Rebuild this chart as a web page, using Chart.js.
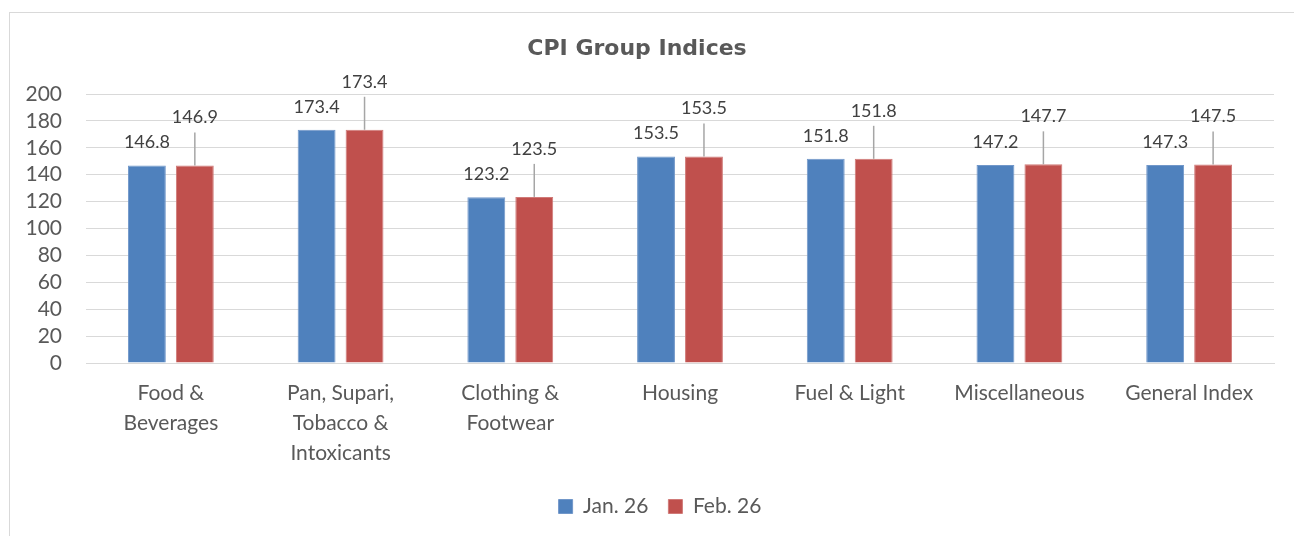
<!DOCTYPE html>
<html><head><meta charset="utf-8">
<script src="https://cdn.jsdelivr.net/npm/chart.js@4"></script>
<style>
html,body{margin:0;padding:0;background:#fff;overflow:hidden;}
#wrap{position:relative;width:1294px;height:536px;}
#frame{position:absolute;left:9px;top:12px;width:1300px;height:540px;border-left:1px solid #d9d9d9;border-top:1px solid #d9d9d9;}
canvas{position:absolute;left:0;top:0;}
</style></head><body>
<div id="wrap"><div id="frame"></div><canvas id="c" width="1294" height="536"></canvas></div>
<script>
const titleText = "CPI Group Indices";
const categories = [["Food &","Beverages"],["Pan, Supari,","Tobacco &","Intoxicants"],["Clothing &","Footwear"],"Housing","Fuel & Light","Miscellaneous","General Index"];
const seriesNames = ["Jan. 26","Feb. 26"];
const jan = [146.8,173.4,123.2,153.5,151.8,147.2,147.3];
const feb = [146.9,173.4,123.5,153.5,151.8,147.7,147.5];
const yMin = 0, yMax = 200, yStep = 20;

const textColor = '#595959';
const labelPlugin = {
  id: 'vlabels',
  afterDatasetsDraw(chart) {
    const ctx = chart.ctx;
    ctx.save();
    ctx.font = '18px Lato';
    ctx.fillStyle = '#404040';
    ctx.textAlign = 'center';
    ctx.textBaseline = 'middle';
    chart.data.datasets.forEach((ds, di) => {
      const meta = chart.getDatasetMeta(di);
      meta.data.forEach((bar, i) => {
        const v = ds.data[i];
        const x = bar.x, top = bar.y;
        if (di === 0) {
          ctx.fillText(v.toFixed(1), x, top - 23);
        } else {
          const ly = top - 48;
          ctx.fillText(v.toFixed(1), x, ly);
          ctx.strokeStyle = '#a6a6a6';
          ctx.lineWidth = 1.5;
          ctx.beginPath();
          ctx.moveTo(x, ly + 15);
          ctx.lineTo(x, top);
          ctx.stroke();
        }
      });
    });
    ctx.restore();
  }
};

const legendShift = {
  id: 'legendShift',
  afterLayout(chart) {
    const lg = chart.legend;
    if (lg) { lg.left += 23; lg.right += 23; }
  }
};

new Chart(document.getElementById('c'), {
  type: 'bar',
  data: {
    labels: categories,
    datasets: [
      {label: seriesNames[0], data: jan, backgroundColor: '#4F81BD', borderColor: '#7197c9', borderWidth: 1},
      {label: seriesNames[1], data: feb, backgroundColor: '#C0504D', borderColor: '#d07a78', borderWidth: 1}
    ]
  },
  options: {
    responsive: false,
    animation: false,
    devicePixelRatio: 1,
    layout: {padding: {left: 0, right: 20, top: 0, bottom: 9}},
    datasets: {bar: {categoryPercentage: 0.565, barPercentage: 0.79}},
    plugins: {
      title: {display: true, text: titleText, color: textColor,
        font: {family: 'DejaVu Sans', weight: 'bold', size: 22, lineHeight: 1.2},
        padding: {top: 36, bottom: 31.6}},
      legend: {position: 'bottom',
        labels: {color: textColor, font: {family: 'Lato', size: 21}, boxWidth: 14, boxHeight: 14, padding: 20}},
      tooltip: {enabled: false}
    },
    scales: {
      x: {
        afterFit: s => { s.height -= 7; },
        grid: {display: false, drawTicks: false},
        border: {display: true, color: '#d9d9d9', width: 1},
        ticks: {color: textColor, font: {family: 'Lato', size: 21, lineHeight: 30/21}, padding: 15, maxRotation: 0, autoSkip: false}
      },
      y: {
        min: yMin, max: yMax,
        afterFit: s => { s.width = 86; },
        grid: {color: '#d9d9d9', lineWidth: 1, drawTicks: false},
        border: {display: false},
        ticks: {stepSize: yStep, autoSkip: false, color: textColor, font: {family: 'Lato', size: 21}, padding: 24}
      }
    }
  },
  plugins: [labelPlugin, legendShift]
});
</script>
</body></html>
